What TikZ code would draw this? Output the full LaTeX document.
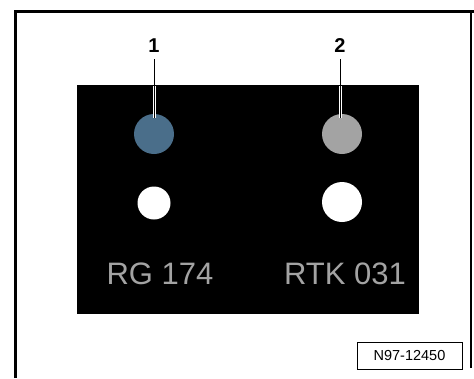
\documentclass[tikz,border=0pt]{standalone}
\usepackage{fontspec}
\setmainfont{Liberation Sans}
\usepackage{tikz}
\usetikzlibrary{positioning, calc}

\definecolor{plugblue}{HTML}{4A6E8A}
\definecolor{pluggrey}{HTML}{A3A3A3}

\begin{document}
\begin{tikzpicture}[x=1pt, y=-1pt,
  hole/.style={circle, inner sep=0pt, minimum size=#1},
  lbl/.style={font=\fontsize{20}{20}\selectfont\bfseries, inner sep=0pt},
  code/.style={font=\fontsize{31}{31}\selectfont, text=pluggrey, inner sep=0pt},
  lead/.style={line width=0.9pt, draw=black},
  halo/.style={line width=3pt, draw=white}
]
  \useasboundingbox (0,0) rectangle (474,378);

  % Rahmen
  \draw[line width=3pt] (15,378) -- (15,11) -- (474,11);
  \draw[line width=2pt] (471,11) -- (471,368);

  % Schild
  \fill[black] (77,85) rectangle (419,314);

  % Stecker
  \node[hole=40pt, fill=plugblue] (c1) at (154,134) {};
  \node[hole=40pt, fill=pluggrey] (c2) at (342,134) {};
  \node[hole=33pt, fill=white] (w1) at (154,203) {};
  \node[hole=40pt, fill=white] (w2) at (342,202) {};

  \node[code] (t1) at (160,274) {RG 174};
  \node[code] (t2) at (345,274) {RTK 031};

  % Positionsnummern
  \node[lbl] (n1) at (154,46) {1};
  \node[lbl] (n2) at (340,46) {2};
  \coordinate (e1) at (154,118);
  \coordinate (e2) at (340,118);
  \draw[halo] (154,86) -- (e1);
  \draw[halo] (340,86) -- (e2);
  \draw[lead] (n1.south) ++(0,6) -- (e1);
  \draw[lead] (n2.south) ++(0,6) -- (e2);

  % Bildnummer
  \node[draw, line width=0.8pt, minimum width=105pt, minimum height=27pt,
        font=\fontsize{14.5}{14.5}\selectfont] (bn) at (409.5,355.5) {N97-12450};
\end{tikzpicture}
\end{document}
